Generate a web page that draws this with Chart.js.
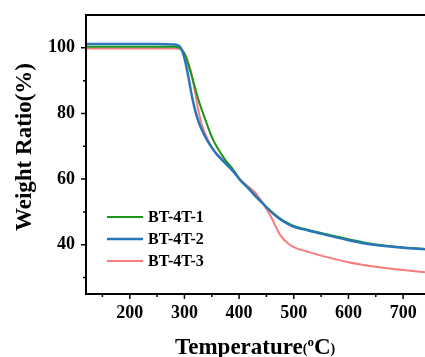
<!DOCTYPE html>
<html>
<head>
<meta charset="utf-8">
<script src="https://cdn.jsdelivr.net/npm/chart.js@4/dist/chart.umd.min.js"></script>
<style>
  html, body { margin: 0; padding: 0; background: #fff; overflow: hidden; }
  #wrap { width: 425px; height: 357px; }
</style>
</head>
<body>
<div id="wrap"><canvas id="tga" width="425" height="357"></canvas></div>
<script>
const temps = [120, 250, 280, 290, 296, 302, 308, 314, 320, 326, 332, 340, 350, 360, 375, 390, 402, 415, 430, 445, 460, 475, 490, 500, 525, 550, 600, 650, 700, 740];
const bt1 = [100.3, 100.3, 100.3, 100.1, 99.3, 97.5, 94.5, 91.0, 87.5, 84.0, 81.0, 77.3, 72.9, 69.6, 65.8, 62.7, 59.7, 57.4, 54.8, 52.3, 50.0, 48.0, 46.5, 45.7, 44.6, 43.6, 41.7, 40.1, 39.2, 38.7];
const bt2 = [101.2, 101.2, 101.0, 100.6, 99.0, 95.5, 90.5, 85.0, 80.7, 77.4, 75.0, 72.3, 69.6, 67.4, 64.8, 62.2, 59.7, 57.6, 54.9, 52.3, 49.8, 47.8, 46.3, 45.5, 44.4, 43.4, 41.4, 39.9, 39.1, 38.6];
const bt3 = [99.8, 99.8, 99.8, 99.7, 99.3, 97.8, 95.0, 91.5, 86.0, 80.5, 76.5, 73.0, 69.8, 67.6, 65.2, 62.6, 59.9, 58.0, 55.8, 52.3, 48.0, 43.0, 40.3, 39.3, 37.9, 36.7, 34.7, 33.3, 32.3, 31.6];
const seriesNames = ['BT-4T-1', 'BT-4T-2', 'BT-4T-3'];
const xTicks = [200, 300, 400, 500, 600, 700];
const xMinor = [150, 250, 350, 450, 550, 650];
const yTicks = [40, 60, 80, 100];
const yMinor = [30, 50, 70, 90];

const FONT = '"Liberation Serif", "Times New Roman", serif';
const pts = (ys) => temps.map((t, i) => ({ x: t, y: ys[i] }));

const framePlugin = {
  id: 'frame',
  afterDraw(chart) {
    const { ctx, chartArea: a, scales: { x, y } } = chart;
    ctx.save();
    ctx.strokeStyle = '#000';
    ctx.lineWidth = 2;
    ctx.beginPath();
    ctx.moveTo(a.right, a.top); ctx.lineTo(a.left, a.top);
    ctx.lineTo(a.left, a.bottom); ctx.lineTo(a.right, a.bottom);
    ctx.stroke();

    ctx.lineWidth = 1.5;
    ctx.beginPath();
    xTicks.forEach(v => { const p = x.getPixelForValue(v); ctx.moveTo(p, a.bottom); ctx.lineTo(p, a.bottom + 5); });
    xMinor.forEach(v => { const p = x.getPixelForValue(v); ctx.moveTo(p, a.bottom); ctx.lineTo(p, a.bottom + 3); });
    yTicks.forEach(v => { const p = y.getPixelForValue(v); ctx.moveTo(a.left, p); ctx.lineTo(a.left - 5, p); });
    yMinor.forEach(v => { const p = y.getPixelForValue(v); ctx.moveTo(a.left, p); ctx.lineTo(a.left - 3, p); });
    ctx.stroke();

    // legend
    ctx.font = 'bold 16px ' + FONT;
    ctx.textBaseline = 'middle';
    ctx.fillStyle = '#000';
    chart.data.datasets.forEach((ds, i) => {
      const ly = a.top + 202 + i * 22;
      ctx.strokeStyle = ds.borderColor;
      ctx.lineWidth = ds.borderWidth;
      ctx.beginPath(); ctx.moveTo(a.left + 21, ly); ctx.lineTo(a.left + 57, ly); ctx.stroke();
      ctx.fillText(ds.label, a.left + 62, ly + 1);
    });

    // y title
    ctx.save();
    ctx.translate(24, 147);
    ctx.rotate(-Math.PI / 2);
    ctx.textAlign = 'center';
    ctx.font = 'bold 23px ' + FONT;
    ctx.fillText('Weight Ratio(%)', 0, 1);
    ctx.restore();

    // x title: Temperature(ºC) with small parens and superscript o
    ctx.textAlign = 'left';
    ctx.textBaseline = 'alphabetic';
    const base = 354;
    let cx = 175;
    ctx.font = 'bold 23px ' + FONT;
    ctx.fillText('Temperature', cx, base); cx += ctx.measureText('Temperature').width;
    ctx.font = 'bold 14px ' + FONT;
    ctx.fillText('(', cx, base - 1); cx += ctx.measureText('(').width;
    ctx.font = 'bold 13px ' + FONT;
    ctx.fillText('o', cx, base - 8); cx += ctx.measureText('o').width;
    ctx.font = 'bold 23px ' + FONT;
    ctx.fillText('C', cx, base); cx += ctx.measureText('C').width;
    ctx.font = 'bold 14px ' + FONT;
    ctx.fillText(')', cx, base - 1);
    ctx.restore();
  }
};

new Chart(document.getElementById('tga'), {
  type: 'line',
  data: {
    datasets: [
      { label: seriesNames[0], data: pts(bt1), borderColor: '#1a961a', borderWidth: 2, order: 1 },
      { label: seriesNames[1], data: pts(bt2), borderColor: '#2a76ba', borderWidth: 2.5, order: 0 },
      { label: seriesNames[2], data: pts(bt3), borderColor: '#f87c7c', borderWidth: 2, order: 2 },
    ].map(d => ({ ...d, pointRadius: 0, fill: false, cubicInterpolationMode: 'monotone' })),
  },
  options: {
    responsive: false,
    animation: false,
    layout: { padding: { top: 15, right: 0, left: 0, bottom: 0 } },
    plugins: { legend: { display: false }, tooltip: { enabled: false } },
    scales: {
      x: {
        type: 'linear', min: 120, max: 740,
        grid: { display: false, drawTicks: false }, border: { display: false },
        afterBuildTicks: (s) => { s.ticks = xTicks.map(v => ({ value: v })); },
        afterFit: (s) => { s.height = 63; s.paddingLeft = 0; s.paddingRight = 0; },
        ticks: { color: '#000', padding: 9, font: { family: FONT, size: 18, weight: 'bold' } },
      },
      y: {
        type: 'linear', min: 25, max: 110,
        grid: { display: false, drawTicks: false }, border: { display: false },
        afterBuildTicks: (s) => { s.ticks = yTicks.map(v => ({ value: v })); },
        afterFit: (s) => { s.width = 86; s.paddingTop = 0; s.paddingBottom = 0; },
        ticks: { color: '#000', padding: 11, font: { family: FONT, size: 18, weight: 'bold' } },
      },
    },
  },
  plugins: [framePlugin],
});
</script>
</body>
</html>
